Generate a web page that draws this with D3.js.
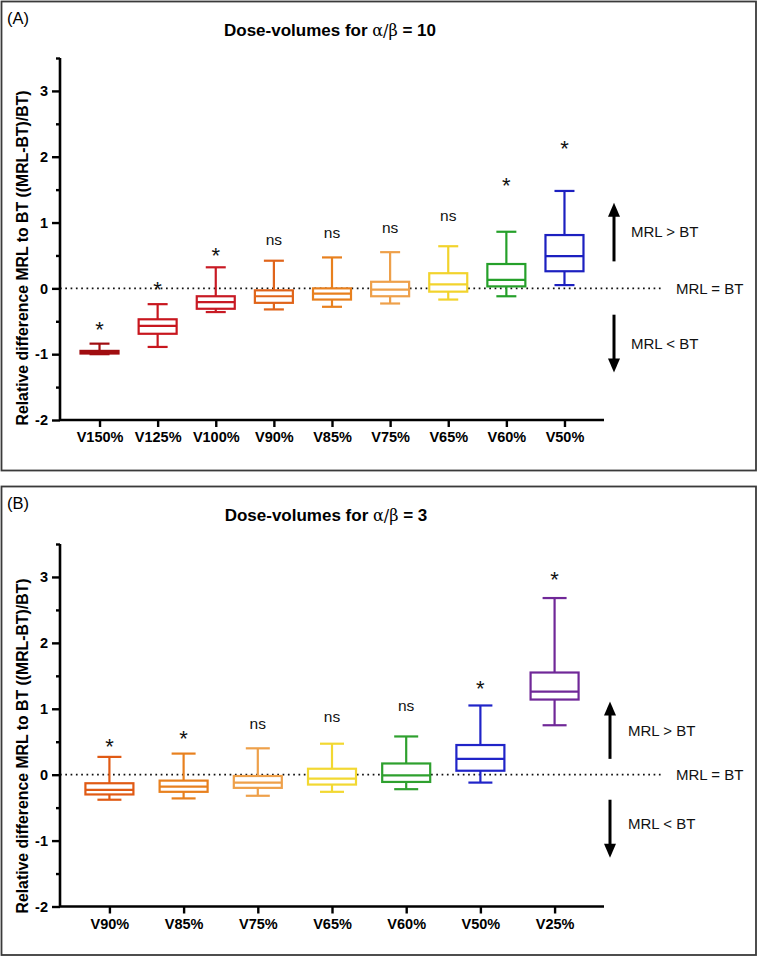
<!DOCTYPE html>
<html><head><meta charset="utf-8">
<script src="https://cdn.jsdelivr.net/npm/d3@7"></script>
<style>body{margin:0;background:#fff}svg{display:block}</style>
</head><body><svg id="c" width="758" height="956"></svg>
<script>
// ---- Panel A data (alpha/beta = 10) ----
const catsA = ["V150%","V125%","V100%","V90%","V85%","V75%","V65%","V60%","V50%"];
const minA  = [-1.00,-0.89,-0.36,-0.32,-0.28,-0.23,-0.17,-0.12,0.05];
const q1A   = [-0.99,-0.69,-0.31,-0.22,-0.17,-0.12,-0.05,0.03,0.26];
const medA  = [-0.97,-0.57,-0.21,-0.12,-0.08,-0.02,0.06,0.13,0.49];
const q3A   = [-0.95,-0.47,-0.12,-0.03,0.00,0.10,0.23,0.37,0.81];
const maxA  = [-0.84,-0.24,0.32,0.42,0.47,0.55,0.64,0.86,1.48];
const sigA  = ["*","*","*","ns","ns","ns","ns","*","*"];
const sigAtA = [-0.53,0.08,0.60,0.75,0.85,0.93,1.11,1.66,2.22];
const colA  = ["#a00d10","#c8161e","#c81a24","#e0641a","#e8801e","#eea04a","#f2d32c","#25a02a","#1c20c0"];

// ---- Panel B data (alpha/beta = 3) ----
const catsB = ["V90%","V85%","V75%","V65%","V60%","V50%","V25%"];
const minB  = [-0.38,-0.36,-0.32,-0.26,-0.22,-0.12,0.75];
const q1B   = [-0.30,-0.26,-0.20,-0.15,-0.11,0.06,1.14];
const medB  = [-0.23,-0.18,-0.12,-0.06,-0.01,0.24,1.26];
const q3B   = [-0.13,-0.09,-0.02,0.09,0.17,0.45,1.55];
const maxB  = [0.27,0.32,0.40,0.47,0.58,1.05,2.68];
const sigB  = ["*","*","ns","ns","ns","*","*"];
const sigAtB = [0.53,0.65,0.77,0.88,1.05,1.41,3.06];
const colB  = ["#e05a14","#e8801e","#eea04a","#f2d832","#2ea02e","#2024c8","#702898"];

const yTicks = [-2,-1,0,1,2,3];
const yMinor = [-1.5,-0.5,0.5,1.5,2.5,3.5];

const svg = d3.select("#c");
const FONT = "'Liberation Sans', Arial, sans-serif";

function panel(cfg){
  const g = svg.append("g");
  g.append("rect").attr("x",1.5).attr("y",cfg.top+0.5).attr("width",754.5).attr("height",cfg.h)
    .attr("fill","none").attr("stroke","#3a3a3a").attr("stroke-width",1.8);
  g.append("text").attr("x",7).attr("y",cfg.top+17).attr("dominant-baseline","central")
    .attr("font-family",FONT).attr("font-size",16.5).text(cfg.letter);
  const t = g.append("text").attr("x",cfg.titleX).attr("y",cfg.top+29).attr("text-anchor","middle")
    .attr("dominant-baseline","central").attr("font-family",FONT).attr("font-size",17).attr("font-weight","bold");
  t.append("tspan").text("Dose-volumes for ");
  t.append("tspan").attr("font-weight","normal").attr("font-family","'DejaVu Serif', serif").attr("font-size",16).text("α/β");
  t.append("tspan").text(" = " + cfg.ab);

  const y = d3.scaleLinear().domain([-2,3.5]).range([cfg.y0, cfg.y1]);
  const x = d3.scalePoint().domain(cfg.cats).range([60,604]).padding(cfg.pad);

  // zero dotted line
  g.append("line").attr("x1",60).attr("x2",662).attr("y1",y(0)).attr("y2",y(0))
    .attr("stroke","#111").attr("stroke-width",1.7).attr("stroke-dasharray","1.7,3.6");

  // axes
  const ya = g.append("g").attr("transform","translate(60,0)")
    .call(d3.axisLeft(y).tickValues(yTicks).tickSize(8).tickSizeOuter(0).tickPadding(4).tickFormat(d=>String(d)));
  g.append("g").attr("transform","translate(60,0)")
    .call(d3.axisLeft(y).tickValues(yMinor).tickSize(4).tickSizeOuter(0).tickFormat(""))
    .call(s=>s.select(".domain").remove());
  const xa = g.append("g").attr("transform",`translate(0,${cfg.y0})`)
    .call(d3.axisBottom(x).tickSize(7).tickSizeOuter(0).tickPadding(5));
  g.selectAll(".domain").attr("stroke","#000").attr("stroke-width",2.6);
  g.selectAll(".tick line").attr("stroke","#000").attr("stroke-width",2.4);
  g.selectAll(".tick text").attr("font-family",FONT).attr("font-size",14.5).attr("font-weight","bold").attr("fill","#000");
  ya.select(".domain").attr("d",`M0,${cfg.y0}V${cfg.y1}`);
  xa.select(".domain").attr("d",`M60,0H604`);

  // y title
  g.append("text").attr("transform",`translate(22,${cfg.labY}) rotate(-90)`).attr("text-anchor","middle")
    .attr("dominant-baseline","central").attr("font-family",FONT).attr("font-size",15.8).attr("font-weight","bold")
    .text("Relative difference MRL to BT ((MRL-BT)/BT)");

  // boxes
  const bw = cfg.bw, cw = cfg.cw;
  cfg.cats.forEach((c,i)=>{
    const cx = x(c), col = cfg.col[i];
    const bg = g.append("g").attr("stroke",col).attr("stroke-width",2.2).attr("fill","none");
    bg.append("line").attr("x1",cx).attr("x2",cx).attr("y1",y(cfg.max[i])).attr("y2",y(cfg.q3[i]));
    bg.append("line").attr("x1",cx).attr("x2",cx).attr("y1",y(cfg.q1[i])).attr("y2",y(cfg.min[i]));
    bg.append("line").attr("x1",cx-cw/2).attr("x2",cx+cw/2).attr("y1",y(cfg.max[i])).attr("y2",y(cfg.max[i]));
    bg.append("line").attr("x1",cx-cw/2).attr("x2",cx+cw/2).attr("y1",y(cfg.min[i])).attr("y2",y(cfg.min[i]));
    bg.append("rect").attr("x",cx-bw/2).attr("width",bw).attr("y",y(cfg.q3[i]))
      .attr("height",Math.max(0,y(cfg.q1[i])-y(cfg.q3[i]))).attr("fill","#fff");
    bg.append("line").attr("x1",cx-bw/2).attr("x2",cx+bw/2).attr("y1",y(cfg.med[i])).attr("y2",y(cfg.med[i]));
    const s = cfg.sig[i];
    g.append("text").attr("x",cx).attr("y",y(cfg.sigAt[i])).attr("text-anchor","middle")
      .attr("dominant-baseline","central").attr("font-family",FONT)
      .attr("font-size", s==="*"?22:15.5).attr("dy", s==="*"?"0.3em":"0")
      .attr("fill","#111").text(s);
  });

  // arrows and labels
  function arrow(xp, v0, v1){
    const a = y(v0), b = y(v1), dir = b<a?-1:1;
    g.append("line").attr("x1",xp).attr("x2",xp).attr("y1",a).attr("y2",b-dir*13)
      .attr("stroke","#000").attr("stroke-width",3);
    g.append("path").attr("d",`M${xp-6},${b-dir*14}L${xp+6},${b-dir*14}L${xp},${b}Z`).attr("fill","#000");
  }
  arrow(cfg.ax, cfg.up[0], cfg.up[1]);
  arrow(cfg.ax, cfg.dn[0], cfg.dn[1]);
  const lab = (xp,v,txt)=>g.append("text").attr("x",xp).attr("y",y(v)).attr("dominant-baseline","central")
    .attr("font-family",FONT).attr("font-size",15).attr("fill","#111").text(txt);
  lab(cfg.lx, cfg.gtAt, "MRL > BT");
  lab(cfg.lx, cfg.ltAt, "MRL < BT");
  lab(676, 0, "MRL = BT");
}

panel({top:1, h:469, letter:"(A)", ab:"10", titleX:330, y0:420, y1:58, labY:258,
  cats:catsA, pad:0.68, bw:38, cw:20, col:colA, min:minA, q1:q1A, med:medA, q3:q3A, max:maxA,
  sig:sigA, sigAt:sigAtA, ax:614, up:[0.41,1.30], dn:[-0.40,-1.28], lx:631, gtAt:0.86, ltAt:-0.84});
panel({top:486, h:468.5, letter:"(B)", ab:"3", titleX:326, y0:906.5, y1:544, labY:746,
  cats:catsB, pad:0.666, bw:48, cw:24, col:colB, min:minB, q1:q1B, med:medB, q3:q3B, max:maxB,
  sig:sigB, sigAt:sigAtB, ax:610, up:[0.24,1.11], dn:[-0.38,-1.26], lx:628, gtAt:0.67, ltAt:-0.74});
</script></body></html>
